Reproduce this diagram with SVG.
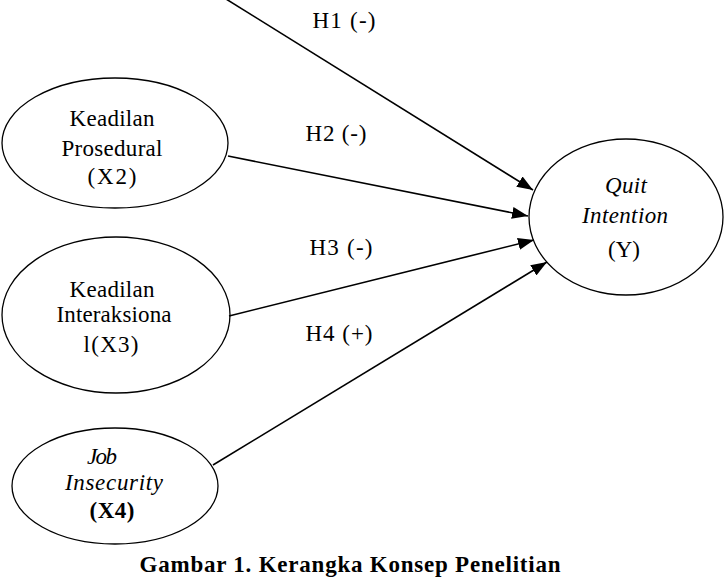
<svg xmlns="http://www.w3.org/2000/svg" width="725" height="579" viewBox="0 0 725 579">
<style>
.n{fill:#fff;stroke:#000;stroke-width:1.3}
.t{font-family:"Liberation Serif","Times New Roman",serif;font-size:23px;fill:#000;text-anchor:middle}
.i{font-style:italic}
.b{font-weight:bold}
.c{stroke:#000;stroke-width:1.6;fill:none;marker-end:url(#ah)}
</style>
<defs>
<marker id="ah" markerUnits="userSpaceOnUse" markerWidth="18" markerHeight="12" refX="16" refY="6" orient="auto">
<path d="M0,0 L16,6 L0,12 Z" fill="#000"/>
</marker>
</defs>
<rect width="725" height="579" fill="#fff"/>
<g id="x2">
<ellipse class="n" cx="115" cy="143" rx="113" ry="65"/>
<text class="t" x="112" y="126" textLength="85" lengthAdjust="spacing">Keadilan</text>
<text class="t" x="112" y="156" textLength="101" lengthAdjust="spacing">Prosedural</text>
<text class="t" x="112" y="184" textLength="49" lengthAdjust="spacing">(X2)</text>
</g>
<g id="x3">
<ellipse class="n" cx="116" cy="315" rx="114" ry="78"/>
<text class="t" x="112" y="297" textLength="85" lengthAdjust="spacing">Keadilan</text>
<text class="t" x="114" y="322" textLength="115" lengthAdjust="spacing">Interaksiona</text>
<text class="t" x="111" y="352" textLength="55" lengthAdjust="spacing">l(X3)</text>
</g>
<g id="x4">
<ellipse class="n" cx="115" cy="486" rx="103" ry="58"/>
<text class="t i" x="102" y="464" textLength="30" lengthAdjust="spacing">Job</text>
<text class="t i" x="114" y="490" textLength="98" lengthAdjust="spacing">Insecurity</text>
<text class="t b" x="112" y="518" textLength="45" lengthAdjust="spacing">(X4)</text>
</g>
<g id="y">
<ellipse class="n" cx="626" cy="217" rx="97" ry="78"/>
<text class="t i" x="626" y="193" textLength="42" lengthAdjust="spacing">Quit</text>
<text class="t i" x="625" y="223" textLength="86" lengthAdjust="spacing">Intention</text>
<text class="t" x="624" y="257" textLength="32" lengthAdjust="spacing">(Y)</text>
</g>
<g id="connectors">
<line class="c" x1="226" y1="-1" x2="533" y2="190"/>
<line class="c" x1="228" y1="156" x2="528" y2="216"/>
<line class="c" x1="229" y1="316" x2="534" y2="240"/>
<line class="c" x1="213" y1="465" x2="547" y2="262"/>
</g>
<g id="labels">
<text class="t" x="344" y="28" textLength="63" lengthAdjust="spacing">H1 (-)</text>
<text class="t" x="336" y="141" textLength="61" lengthAdjust="spacing">H2 (-)</text>
<text class="t" x="341" y="255" textLength="63" lengthAdjust="spacing">H3 (-)</text>
<text class="t" x="339" y="341" textLength="67" lengthAdjust="spacing">H4 (+)</text>
</g>
<text class="t b" x="350" y="572" textLength="421" lengthAdjust="spacing">Gambar  1. Kerangka Konsep Penelitian</text>
</svg>
